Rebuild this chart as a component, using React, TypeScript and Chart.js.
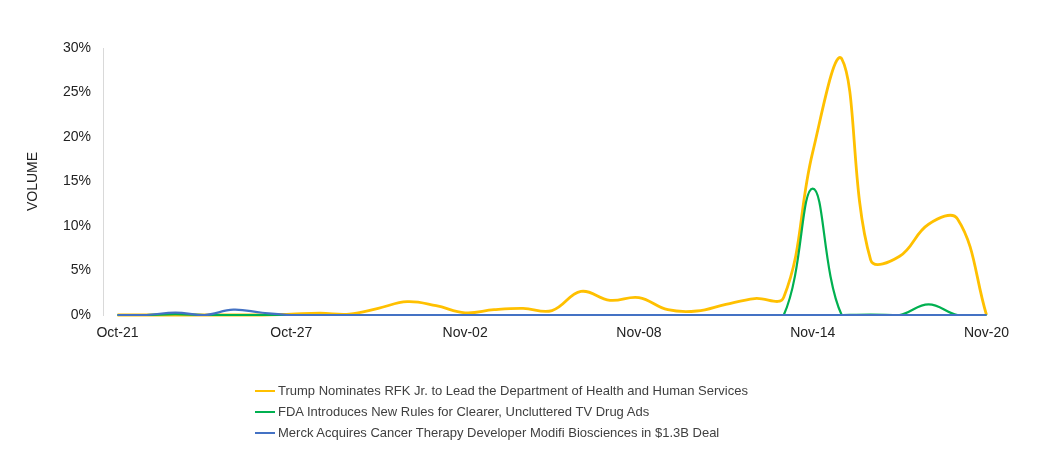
import React, { useEffect, useRef } from "react";
import { Chart, registerables } from "chart.js";

Chart.register(...registerables);

const dates = [
  "Oct-21", "Oct-22", "Oct-23", "Oct-24", "Oct-25", "Oct-26", "Oct-27", "Oct-28", "Oct-29", "Oct-30", "Oct-31",
  "Nov-01", "Nov-02", "Nov-03", "Nov-04", "Nov-05", "Nov-06", "Nov-07", "Nov-08", "Nov-09", "Nov-10",
  "Nov-11", "Nov-12", "Nov-13", "Nov-14", "Nov-15", "Nov-16", "Nov-17", "Nov-18", "Nov-19", "Nov-20",
];

const trumpRfk = [
  0, 0, 0, 0, 0, 0, 0.1, 0.2, 0.1, 0.75, 1.5,
  1.05, 0.25, 0.6, 0.75, 0.5, 2.65, 1.65, 1.95, 0.6, 0.45,
  1.2, 1.85, 2.0, 18.3, 28.8, 6.2, 6.6, 10.2, 10.8, 0,
];

const fdaAds = [
  0, 0, 0.1, 0, 0, 0, 0, 0, 0, 0, 0,
  0, 0, 0, 0, 0, 0, 0, 0, 0, 0,
  0, 0, 0, 14.2, 0, 0.05, 0, 1.2, 0, 0,
];

const merckModifi = [
  0, 0, 0.27, 0, 0.6, 0.25, 0, 0, 0, 0, 0,
  0, 0, 0, 0, 0, 0, 0, 0, 0, 0,
  0, 0, 0, 0, 0, 0, 0, 0, 0, 0,
];

const seriesNames = [
  "Trump Nominates RFK Jr. to Lead the Department of Health and Human Services",
  "FDA Introduces New Rules for Clearer, Uncluttered TV Drug Ads",
  "Merck Acquires Cancer Therapy Developer Modifi Biosciences in $1.3B Deal",
];
const seriesColors = ["#FFC000", "#00B050", "#4472C4"];
const yAxisTitle = "VOLUME";
const yMax = 30;
const yStep = 5;
const xLabelEvery = 6;

const FONT = "Arial, 'Liberation Sans', sans-serif";

export default function App() {
  const canvasRef = useRef<HTMLCanvasElement | null>(null);

  useEffect(() => {
    const canvas = canvasRef.current;
    if (!canvas) return;
    const seriesData = [trumpRfk, fdaAds, merckModifi];
    const widths = [2.8, 2.2, 2.2];
    const orders = [2, 1, 0];
    const chart = new Chart(canvas, {
      type: "line",
      data: {
        labels: dates,
        datasets: seriesData.map((d, i) => ({
          label: seriesNames[i],
          data: d,
          borderColor: seriesColors[i],
          backgroundColor: seriesColors[i],
          borderWidth: widths[i],
          pointRadius: 0,
          pointHoverRadius: 0,
          tension: 0.4,
          fill: false,
          clip: 4,
          order: orders[i],
        })),
      },
      options: {
        animation: false,
        responsive: false,
        maintainAspectRatio: false,
        layout: { padding: { top: 48, right: 40, left: 0, bottom: 0 } },
        plugins: {
          legend: { display: false },
          tooltip: { enabled: false },
        },
        scales: {
          x: {
            type: "category",
            offset: true,
            grid: { display: false, drawTicks: false },
            border: { display: false },
            ticks: {
              autoSkip: false,
              maxRotation: 0,
              minRotation: 0,
              padding: 10,
              color: "#222",
              font: { family: FONT, size: 14 },
              callback: (_v: any, i: number) => (i % xLabelEvery === 0 ? dates[i] : ""),
            },
            afterFit: (s: any) => {
              s.height = 138;
            },
          },
          y: {
            min: 0,
            max: yMax,
            grid: { display: false, drawTicks: false },
            border: { display: true, color: "#d9d9d9", width: 1 },
            ticks: {
              stepSize: yStep,
              padding: 12,
              color: "#222",
              font: { family: FONT, size: 14 },
              callback: (v: any) => `${v}%`,
            },
            title: {
              display: true,
              text: yAxisTitle,
              color: "#222",
              font: { family: FONT, size: 14 },
              padding: { top: 25, bottom: 0 },
            },
            afterFit: (s: any) => {
              s.width = 103;
            },
          },
        },
      },
    });
    return () => chart.destroy();
  }, []);

  return (
    <div style={{ position: "fixed", left: 0, top: 0, width: 1041, height: 453, background: "#fff" }}>
      <canvas ref={canvasRef} width={1041} height={453} style={{ display: "block" }} />
      <div style={{ position: "absolute", left: 255, top: 380, fontFamily: FONT, fontSize: 13, color: "#404040" }}>
        {seriesNames.map((n, i) => (
          <div key={n} style={{ height: 21, lineHeight: "21px", whiteSpace: "nowrap", display: "flex", alignItems: "center" }}>
            <span style={{ display: "inline-block", width: 20, height: 2, background: seriesColors[i], marginRight: 3 }} />
            <span>{n}</span>
          </div>
        ))}
      </div>
    </div>
  );
}
